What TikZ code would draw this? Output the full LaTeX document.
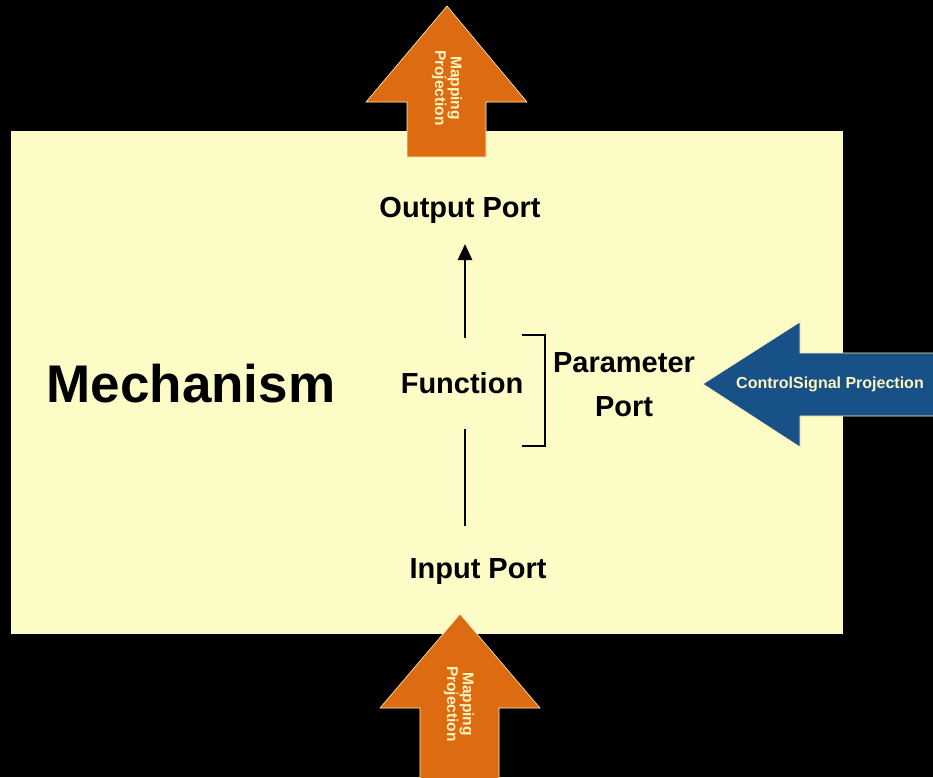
\documentclass[tikz,border=0pt]{standalone}
\usepackage{fontspec}
\setmainfont{Liberation Sans}
\usepackage{xcolor}
\definecolor{mbox}{RGB}{253,251,198}
\definecolor{morange}{RGB}{221,107,17}
\definecolor{mblue}{RGB}{24,80,136}
\definecolor{mtext}{RGB}{253,246,190}
\usetikzlibrary{arrows.meta}

\begin{document}
\begin{tikzpicture}[x=1pt,y=-1pt,
  port/.style={font=\bfseries\fontsize{29}{34}\selectfont,inner sep=0pt,anchor=base},
  proj/.style={font=\bfseries\fontsize{15.5}{14}\selectfont,text=mtext,align=center,inner sep=0pt},
  bigarrow/.style={draw=mtext,line width=0.6pt},
  flow/.style={line width=2.6pt,-{Triangle[length=16pt,width=14pt]}}]
\fill[black] (0,0) rectangle (933,777);
\useasboundingbox (0,0) rectangle (933,777);
\fill[mbox] (11,131) rectangle (843,634);
% projections
\filldraw[bigarrow,fill=morange] (407,157) -- (407,102) -- (366,102) -- (447,6) -- (527,102) -- (486,102) -- (486,157) -- cycle;
\filldraw[bigarrow,fill=morange] (420,780) -- (420,708) -- (380,708) -- (460,614) -- (540,708) -- (499,708) -- (499,780) -- cycle;
\filldraw[bigarrow,fill=mblue] (940,353) -- (800,353) -- (800,322) -- (703,384) -- (800,447) -- (800,416) -- (940,416) -- cycle;
\node[proj,rotate=-90] (mapout) at (447,88) {Mapping\\Projection};
\node[proj,rotate=-90] (mapin) at (459,704) {Mapping\\Projection};
\node[proj,font=\bfseries\fontsize{16}{18}\selectfont] (ctrl) at (830,384) {ControlSignal Projection};
% mechanism
\node[font=\bfseries\fontsize{53}{60}\selectfont,inner sep=0pt] (mech) at (191,384) {Mechanism};
\node[port] (out) at (460,217) {Output Port};
\node[port] (fn) at (462,393) {Function};
\node[port] (in) at (478,578) {Input Port};
\node[port,anchor=center,align=center,font=\bfseries\fontsize{29}{44}\selectfont] (param) at (624,385) {Parameter\\Port};
\coordinate (fntop) at (465,338);
\coordinate (fnbot) at (465,429);
\coordinate (outend) at (465,244);
\coordinate (inend) at (465,526);
\draw[flow] (fntop) -- (outend);
\draw[line width=2.6pt] (fnbot) -- (inend);
\draw[line width=1.1pt] (522,335) -- (545,335) -- (545,446) -- (522,446);
\end{tikzpicture}
\end{document}
